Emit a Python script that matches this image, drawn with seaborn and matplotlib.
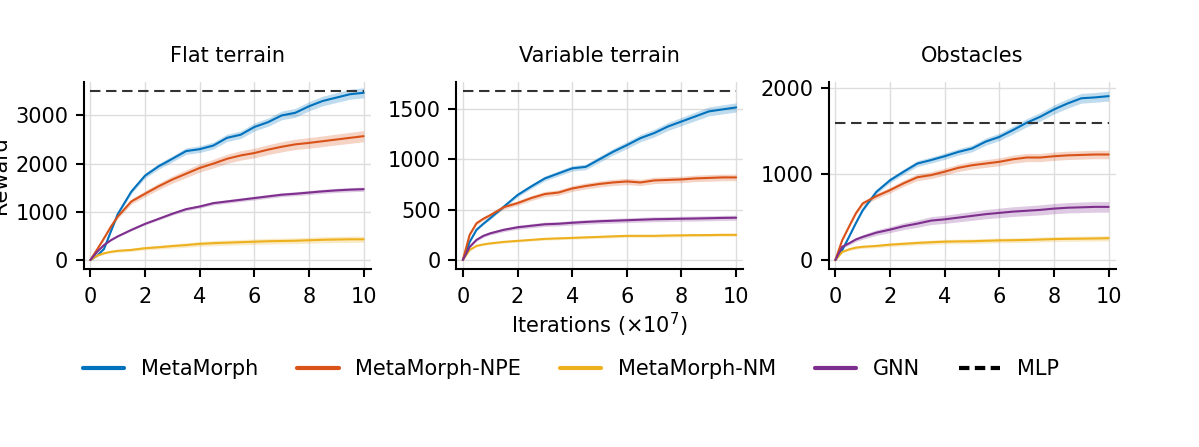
import numpy as np
import pandas as pd
import matplotlib
matplotlib.use("Agg")
import matplotlib.pyplot as plt
from matplotlib.lines import Line2D
import seaborn as sns

# ---------------- data ----------------
iters = [0, 0.25, 0.5, 0.75, 1, 1.5, 2, 2.5, 3, 3.5, 4, 4.5, 5, 5.5, 6, 6.5, 7, 7.5, 8, 8.5, 9, 9.5, 10]
methods = ["MetaMorph", "MetaMorph-NPE", "MetaMorph-NM", "GNN"]
panels = ["Flat terrain", "Variable terrain", "Obstacles"]

flat_metamorph = [0, 90, 230, 590, 950, 1420, 1750, 1945, 2100, 2260, 2300, 2375, 2535, 2600, 2760, 2860, 3000, 3055, 3190, 3300, 3370, 3440, 3470]
flat_npe = [0, 220, 450, 690, 900, 1215, 1375, 1530, 1670, 1790, 1910, 2000, 2100, 2170, 2220, 2290, 2350, 2400, 2430, 2465, 2500, 2535, 2570]
flat_nm = [0, 90, 140, 170, 190, 210, 245, 265, 290, 310, 335, 350, 360, 370, 380, 390, 395, 400, 410, 420, 425, 430, 430]
flat_gnn = [0, 170, 310, 410, 490, 625, 750, 855, 960, 1055, 1110, 1180, 1215, 1250, 1285, 1320, 1355, 1375, 1400, 1425, 1445, 1460, 1470]

var_metamorph = [0, 180, 300, 360, 415, 530, 645, 730, 810, 860, 910, 925, 1000, 1075, 1140, 1210, 1260, 1325, 1375, 1425, 1475, 1495, 1515]
var_npe = [0, 250, 365, 410, 445, 525, 565, 615, 655, 670, 710, 735, 755, 770, 780, 770, 790, 795, 800, 810, 815, 820, 820]
var_nm = [0, 100, 140, 155, 165, 180, 190, 200, 210, 215, 220, 225, 230, 235, 240, 240, 240, 243, 245, 247, 248, 250, 250]
var_gnn = [0, 130, 200, 240, 265, 300, 325, 340, 355, 360, 370, 378, 385, 390, 395, 400, 405, 407, 410, 412, 415, 418, 420]

obs_metamorph = [0, 115, 270, 430, 580, 795, 930, 1030, 1125, 1165, 1210, 1260, 1300, 1380, 1435, 1515, 1600, 1670, 1755, 1825, 1885, 1895, 1910]
obs_npe = [0, 230, 390, 545, 660, 745, 815, 895, 965, 990, 1030, 1075, 1105, 1125, 1145, 1175, 1195, 1195, 1210, 1220, 1225, 1230, 1230]
obs_nm = [0, 95, 125, 145, 155, 165, 180, 190, 200, 208, 215, 218, 220, 225, 230, 232, 235, 240, 245, 248, 250, 252, 255]
obs_gnn = [0, 155, 195, 240, 270, 320, 355, 395, 425, 460, 475, 495, 515, 535, 550, 565, 575, 585, 600, 610, 615, 620, 620]

mlp_levels = [3500, 1680, 1600]

# relative half-width of the shaded band per method, per panel
band_flat = [0.03, 0.045, 0.15, 0.03]
band_var = [0.03, 0.04, 0.06, 0.06]
band_obs = [0.03, 0.04, 0.12, 0.10]

ylims = [(-180, 3700), (-86, 1770), (-100, 2078)]
yticks = [[0, 1000, 2000, 3000], [0, 500, 1000, 1500], [0, 1000, 2000]]
xticks = [0, 2, 4, 6, 8, 10]

colors = ["#0072BD", "#D95319", "#EDB120", "#7E2F8E"]

panel_series = [
    [flat_metamorph, flat_npe, flat_nm, flat_gnn],
    [var_metamorph, var_npe, var_nm, var_gnn],
    [obs_metamorph, obs_npe, obs_nm, obs_gnn],
]
panel_bands = [band_flat, band_var, band_obs]

rows = []
for p, series in zip(panels, panel_series):
    for m, vals in zip(methods, series):
        for x, v in zip(iters, vals):
            rows.append({"panel": p, "method": m, "iter": x, "reward": v})
df = pd.DataFrame(rows)

# ---------------- plotting ----------------
sns.set_theme(style="white")
plt.rcParams["font.family"] = ["DejaVu Sans"]
plt.rcParams["text.color"] = "black"
plt.rcParams["axes.labelcolor"] = "black"
plt.rcParams["xtick.color"] = "black"
plt.rcParams["ytick.color"] = "black"

FS = 15
fig = plt.figure(figsize=(11.99, 4.47), dpi=100)
W, H = 1199, 447
lefts = [83.5, 456, 828.5]
axw, top, bot = 287, 81.7, 268.7
axes = [fig.add_axes([l / W, 1 - bot / H, axw / W, (bot - top) / H]) for l in lefts]

palette = dict(zip(methods, colors))
for i, ax in enumerate(axes):
    sub = df[df.panel == panels[i]]
    for m, frac in zip(methods, panel_bands[i]):
        s = sub[sub.method == m]
        y = s.reward.to_numpy(dtype=float)
        ax.fill_between(s.iter, y * (1 - frac), y * (1 + frac), color=palette[m], alpha=0.25, lw=0)
    sns.lineplot(data=sub, x="iter", y="reward", hue="method", palette=palette,
                 hue_order=methods, ax=ax, legend=False, lw=1.5, errorbar=None)
    ax.hlines(mlp_levels[i], 0, 10, colors="#333333", lw=1.5, linestyles=(0, (5, 2.7)))
    ax.set_xlim(-0.25, 10.25)
    ax.set_ylim(*ylims[i])
    ax.set_xticks(xticks)
    ax.set_yticks(yticks[i])
    ax.grid(True, color="#dddddd", lw=1)
    ax.set_axisbelow(True)
    sns.despine(ax=ax)
    for sp in ["left", "bottom"]:
        ax.spines[sp].set_linewidth(1.5)
        ax.spines[sp].set_color("black")
    ax.tick_params(axis="both", direction="out", length=6, width=1.5, labelsize=FS, pad=5,
                   colors="black", left=True, bottom=True)
    ax.tick_params(axis="x", pad=7)
    ax.set_title(panels[i], fontsize=FS, pad=14, color="black")
    ax.set_xlabel("")
    ax.set_ylabel("")

axes[0].set_ylabel("Reward", fontsize=FS)
axes[0].yaxis.set_label_coords(-0.255, 0.5)
axes[1].set_xlabel(r"Iterations ($\times10^{7}$)", fontsize=FS, labelpad=3)

handles = [Line2D([], [], color=c, lw=3) for c in colors]
handles.append(Line2D([], [], color="black", lw=3, linestyle=(0, (2.5, 1.3))))
labels = methods + ["MLP"]
fig.legend(handles, labels, loc="center left", bbox_to_anchor=(64 / W, 1 - 369 / H),
           ncol=5, frameon=False, fontsize=FS, handlelength=2.0, handletextpad=0.8,
           columnspacing=1.85)

fig.savefig("out.png", dpi=100)
